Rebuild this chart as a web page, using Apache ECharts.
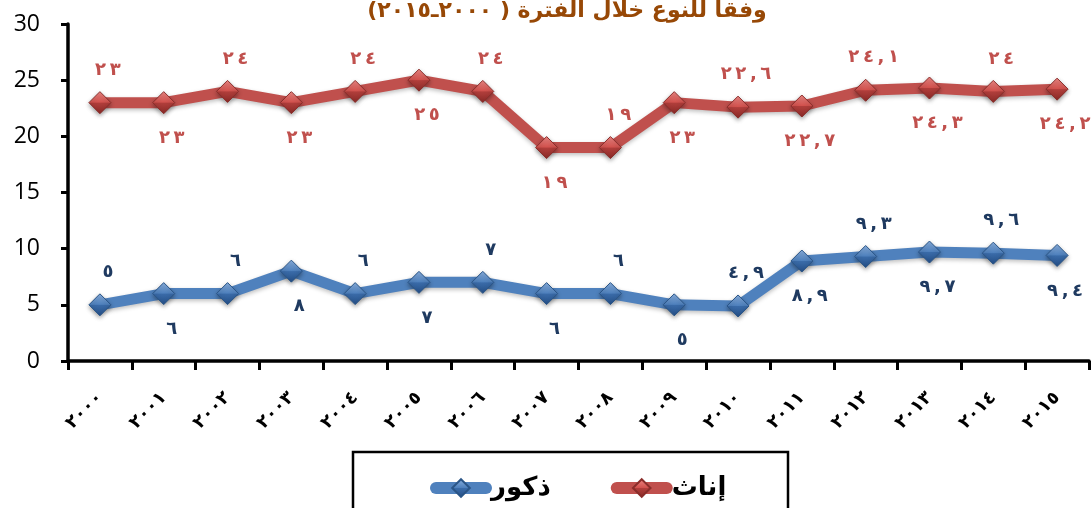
<!DOCTYPE html>
<html><head><meta charset="utf-8">
<script src="https://cdn.jsdelivr.net/npm/echarts@6/dist/echarts.min.js"></script>
<style>html,body{margin:0;padding:0;background:#fff;overflow:hidden}#c{width:1091px;height:508px}</style>
</head><body><div id="c"></div>
<script>
// ---- data ----
const years = ['٢٠٠٠','٢٠٠١','٢٠٠٢','٢٠٠٣','٢٠٠٤','٢٠٠٥','٢٠٠٦','٢٠٠٧','٢٠٠٨','٢٠٠٩','٢٠١٠','٢٠١١','٢٠١٢','٢٠١٣','٢٠١٤','٢٠١٥'];
const females = [23, 23, 24, 23, 24, 25, 24, 19, 19, 23, 22.6, 22.7, 24.1, 24.3, 24, 24.2];
const males = [5, 6, 6, 8, 6, 7, 7, 6, 6, 5, 4.9, 8.9, 9.3, 9.7, 9.6, 9.4];
const maleName = 'ذكور';
const femaleName = 'إناث';
const titleText = 'وفقا للنوع خلال الفترة ( ٢٠٠٠ـ٢٠١٥)';
const yMin = 0, yMax = 30, yStep = 5;

// ---- helpers ----
const AR = '٠١٢٣٤٥٦٧٨٩';
function toArabic(v) {
  const s = String(v).replace(/[0-9]/g, d => AR[+d]).replace('.', ',');
  return Array.from(s).join('\u200E\u2009\u200E');
}
function withAlternating(values) {
  return values.map((v, i) => ({
    value: v,
    label: { position: i % 2 === 0 ? 'top' : 'bottom', distance: i % 2 === 0 ? 12 : 15 }
  }));
}
function diamondGrad(light, mid, dark, darker) {
  return new echarts.graphic.LinearGradient(0, 0, 0, 1, [
    { offset: 0, color: light }, { offset: 0.48, color: mid },
    { offset: 0.52, color: dark }, { offset: 1, color: darker }
  ]);
}

const chart = echarts.init(document.getElementById('c'), null, { renderer: 'canvas' });
const AFONT = '"DejaVu Sans", "Noto Sans", sans-serif';

function lineSeries(name, values, lineColor, grad, border, labelColor) {
  return {
    name, type: 'line', data: withAlternating(values),
    symbol: 'diamond', symbolSize: 22,
    lineStyle: { color: lineColor, width: 11, cap: 'round', join: 'round',
      shadowColor: 'rgba(0,0,0,0.25)', shadowBlur: 4, shadowOffsetY: 2 },
    itemStyle: { color: grad, borderColor: border, borderWidth: 1,
      shadowColor: 'rgba(0,0,0,0.35)', shadowBlur: 4, shadowOffsetY: 2 },
    label: { show: true, formatter: p => toArabic(p.value), color: labelColor,
      fontFamily: AFONT, fontWeight: 'bold', fontSize: 18, offset: [8, 0] },
    emphasis: { disabled: true },
    z: 3
  };
}

chart.setOption({
  animation: false,
  backgroundColor: '#fff',
  grid: { left: 68, right: 2, top: 24, bottom: 147 },
  xAxis: {
    type: 'category', data: years, boundaryGap: true,
    axisLine: { lineStyle: { color: '#000', width: 3.5 } },
    axisTick: { show: true, length: 9, lineStyle: { color: '#000', width: 3 } },
    axisLabel: { rotate: 45, margin: 34, color: '#000', fontFamily: AFONT, fontWeight: 'bold', fontSize: 18, interval: 0 },
    splitLine: { show: false }
  },
  yAxis: {
    type: 'value', min: yMin, max: yMax, interval: yStep,
    axisLine: { show: true, lineStyle: { color: '#000', width: 3.5 } },
    axisTick: { show: true, length: 7, lineStyle: { color: '#000', width: 3 } },
    axisLabel: { color: '#000', fontFamily: '"Open Sans", "Liberation Sans", Arial, sans-serif', fontSize: 23, margin: 28 },
    splitLine: { show: false }
  },
  legend: {
    data: [maleName, femaleName],
    left: 425, top: 470, itemWidth: 50, itemHeight: 22, itemGap: 60,
    lineStyle: { width: 12, cap: 'round' },
    textStyle: { color: '#000', fontFamily: AFONT, fontWeight: 'bold', fontSize: 26 },
    selectedMode: false
  },
  graphic: [
    { type: 'rect', shape: { x: 353, y: 452, width: 435, height: 70 },
      style: { fill: 'none', stroke: '#000', lineWidth: 2.5 }, z: 0 },
    { type: 'text', x: 567, y: 11,
      style: { text: titleText, align: 'center', verticalAlign: 'middle',
        font: 'bold 22px ' + AFONT, fill: '#974806' }, z: 5 }
  ],
  series: [
    lineSeries(maleName, males, '#4F81BD', diamondGrad('#8DB3E2', '#4F81BD', '#3A6BA8', '#244E86'), '#2A5587', '#1F3A60'),
    lineSeries(femaleName, females, '#C0504D', diamondGrad('#F08A87', '#D2524E', '#B03E3B', '#8A2A27'), '#8A2D2A', '#C0504D')
  ]
});
</script>
</body></html>
